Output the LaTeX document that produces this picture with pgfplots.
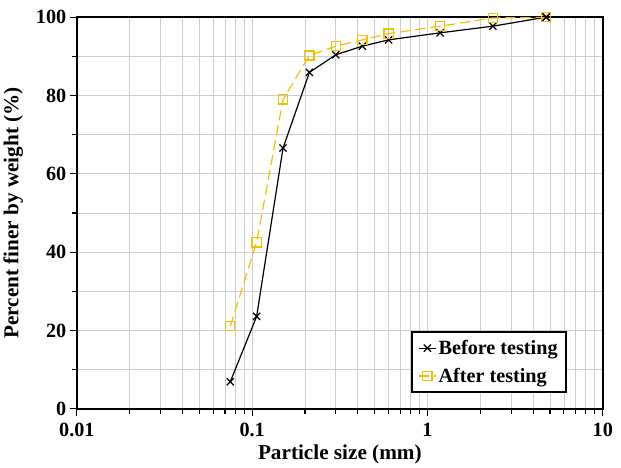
\documentclass[border=0pt]{standalone}
\usepackage{pgfplots}
\pgfplotsset{compat=1.18}
\usepackage{fontspec}
\setmainfont{Liberation Serif}
\definecolor{gold}{HTML}{F5C000}
\definecolor{gridgray}{HTML}{CCCCCC}
\begin{document}
\begin{tikzpicture}
\begin{axis}[
    name=main,
    xmode=log,
    width=521pt, height=388pt, scale only axis,
    xmin=0.01, xmax=10, ymin=0, ymax=100,
    ytick={0,20,...,100}, minor ytick={10,30,...,90},
    xtick={0.01,0.1,1,10},
    xticklabels={0.01,0.1,1,10},
    grid=both,
    major grid style={gridgray, line width=0.8pt},
    minor grid style={gridgray, line width=0.8pt},
    axis line style={line width=1.6pt},
    tick style={black, line width=1.1pt},
    major tick length=7pt, minor tick length=5pt,
    tick align=outside,
    xtick pos=bottom, ytick pos=left,
    /pgf/number format/assume math mode=true,
    tick label style={font=\fontsize{20}{24}\selectfont\bfseries},
    xticklabel style={yshift=-4pt},
    label style={font=\fontsize{21}{25}\selectfont\bfseries},
    xlabel={Particle size (mm)},
    ylabel={Percent finer by weight (\%)},
    xlabel style={yshift=-1pt},
    ylabel style={yshift=6pt},
    legend style={at={(0.931,0.041)}, anchor=south east, draw=black, line width=1.6pt,
        font=\fontsize{20}{24}\selectfont\bfseries, inner sep=6pt, row sep=8pt,
        /tikz/every even column/.append style={column sep=3pt}},
    legend cell align=left,
]
\addplot[black, line width=1.2pt, mark=x, mark size=5pt, mark options={line width=1.2pt}]
    coordinates {(0.075,6.9) (0.106,23.6) (0.15,66.6) (0.212,85.9) (0.3,90.4)
                 (0.425,92.6) (0.6,94.2) (1.18,96.0) (2.36,97.7) (4.75,100)};
\addlegendentry{Before testing}
\addplot[gold, line width=1.2pt, dash pattern=on 10pt off 5pt, mark=square, mark size=4.5pt,
    mark options={solid, line width=1.2pt}]
    coordinates {(0.075,21.1) (0.106,42.5) (0.15,79.0) (0.212,90.2) (0.3,92.6)
                 (0.425,94.2) (0.6,95.8) (1.18,97.7) (2.36,99.8) (4.75,100)};
\addlegendentry{After testing}
\addplot[black, line width=1.2pt, mark=x, mark size=5pt, mark options={line width=1.2pt}, forget plot]
    coordinates {(4.75,100)};
\end{axis}
\path (main.north east) ++(18pt,17pt);
\end{tikzpicture}
\end{document}
